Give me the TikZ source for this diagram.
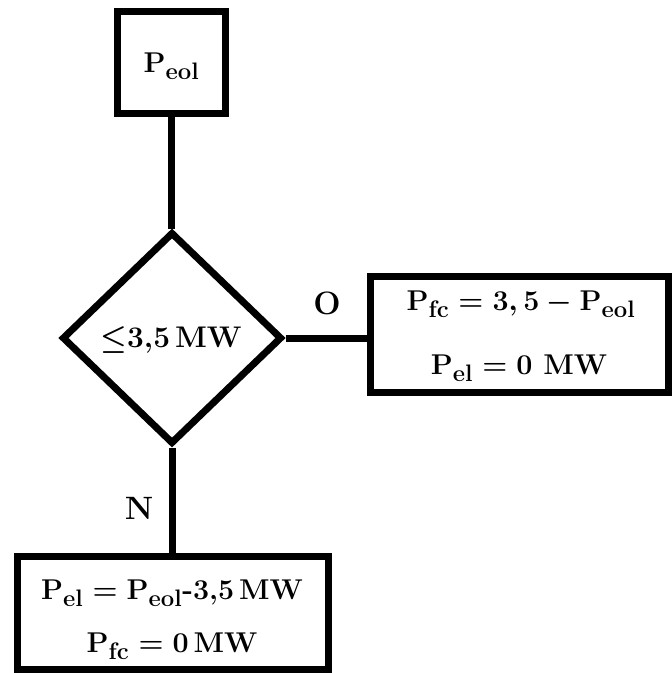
\documentclass[tikz,border=0pt]{standalone}
\usepackage{graphicx}
\usetikzlibrary{shapes.geometric}
\newcommand{\bigtxt}[2][1.15]{\scalebox{#1}{#2}}
\begin{document}
\begin{tikzpicture}[x=1pt,y=-1pt,
  box/.style={draw,line width=7pt,inner sep=0pt},
  conn/.style={line width=7pt},
  txt/.style={inner sep=0pt,font=\fontsize{24.88}{30}\selectfont\bfseries\boldmath},
  lbl/.style={inner sep=0pt,font=\fontsize{24.88}{30}\selectfont\bfseries}]
\useasboundingbox (0,0) rectangle (672,673);
\node[box,minimum width=108pt,minimum height=102pt] (top) at (171.5,62) {};
\node[txt] (toptxt) at (171.5,66) {\bigtxt{$\mathbf{P}_{\mathbf{eol}}$}};
\node[box,diamond,minimum width=220pt,minimum height=212pt] (dec) at (172,338) {};
\node[txt] (dectxt) at (171,340) {\bigtxt[1.2]{$\leq$3,5\,MW}};
\node[box,minimum width=298pt,minimum height=116pt] (yes) at (519,334) {};
\node[txt] (yes1) at (521,304) {\bigtxt{$\mathbf{P}_{\mathbf{fc}}=3,5-\mathbf{P}_{\mathbf{eol}}$}};
\node[txt] (yes2) at (519,368) {\bigtxt{$\mathbf{P}_{\mathbf{el}}=0$ MW}};
\node[box,minimum width=311pt,minimum height=113pt] (no) at (172.5,613) {};
\node[txt] (no1) at (172,593) {\bigtxt{$\mathbf{P}_{\mathbf{el}}=\mathbf{P}_{\mathbf{eol}}$-3,5\,MW}};
\node[txt] (no2) at (172,646) {\bigtxt{$\mathbf{P}_{\mathbf{fc}}=0$\,MW}};
\draw[conn] (top.south) -- (top.south |- dec.north);
\draw[conn] (dec.east) -- (yes.west |- dec.east);
\draw[conn] (dec.south) -- (dec.south |- no.north);
\node[lbl] (o) at (327,303) {\bigtxt[1.3]{O}};
\node[lbl] (n) at (139,508) {\bigtxt[1.3]{N}};
\end{tikzpicture}
\end{document}
